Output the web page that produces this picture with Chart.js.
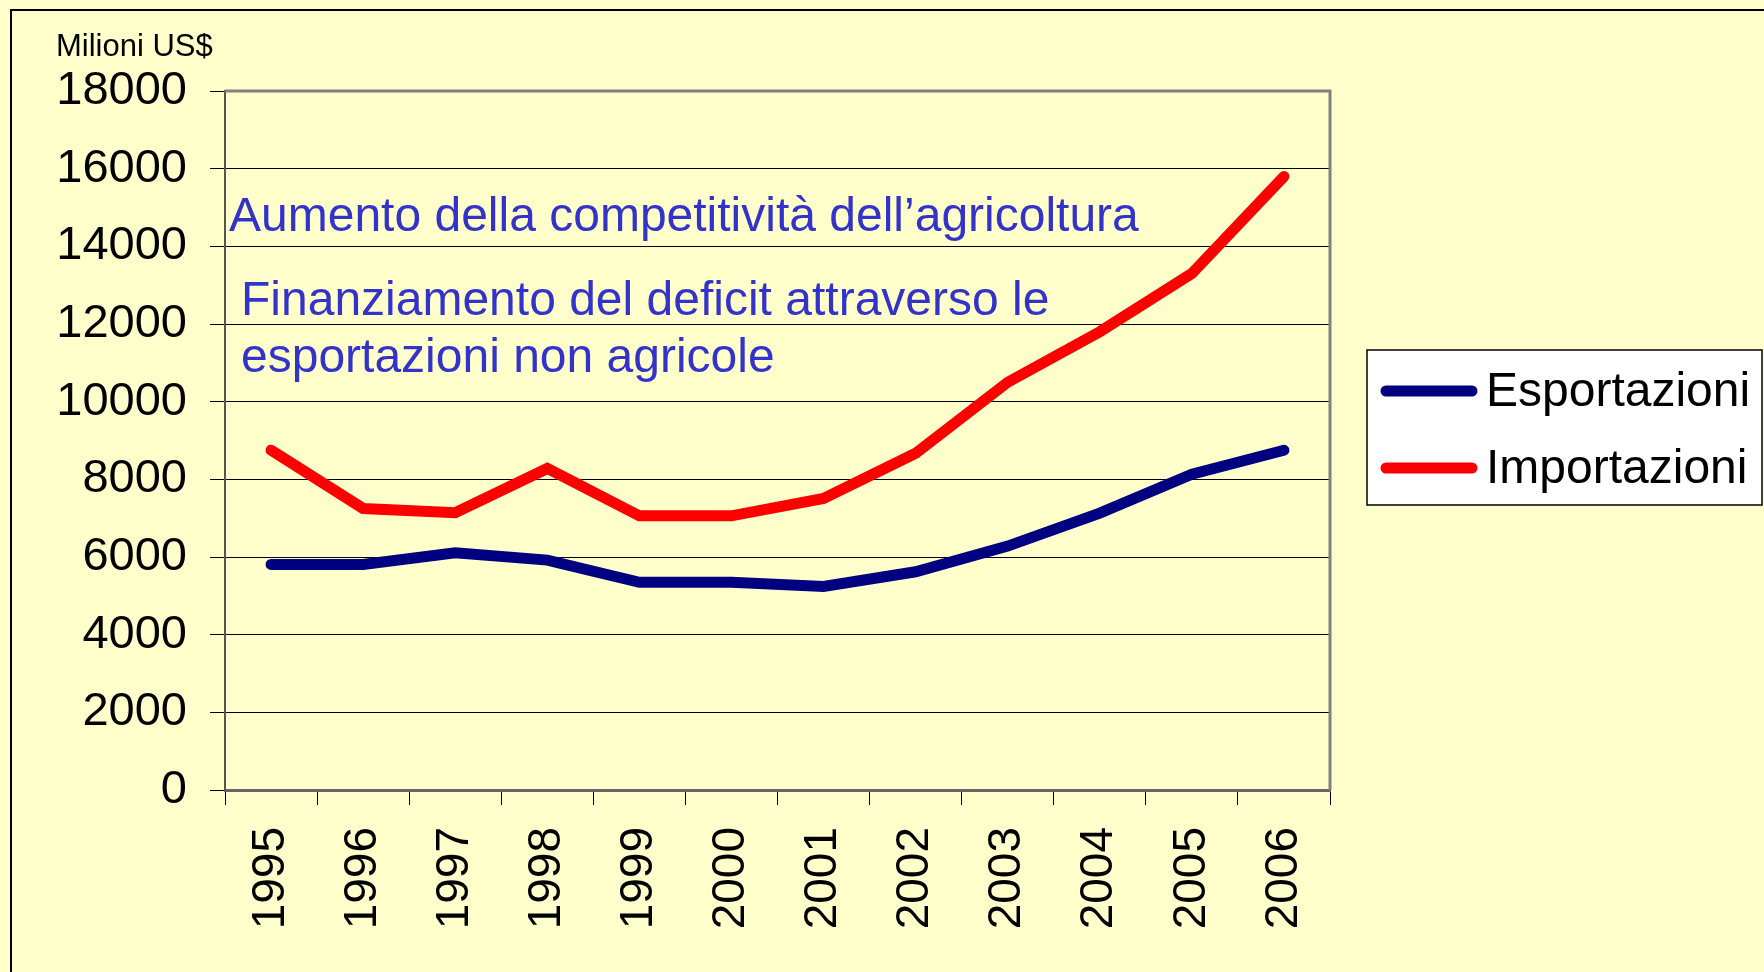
<!DOCTYPE html>
<html>
<head>
<meta charset="utf-8">
<script src="https://cdn.jsdelivr.net/npm/chart.js@4.4.1/dist/chart.umd.min.js"></script>
<style>
    html, body { margin: 0; padding: 0; background: #FFFFCC; }
    #contenitore { width: 1764px; height: 972px; }
</style>
</head>
<body>
<div id="contenitore">
    <canvas id="grafico" width="1764" height="972"></canvas>
</div>
<script>
// Dati (milioni di US$)
const anni = ['1995', '1996', '1997', '1998', '1999', '2000', '2001', '2002', '2003', '2004', '2005', '2006']
const esportazioni = [5810, 5810, 6110, 5920, 5350, 5350, 5240, 5620, 6280, 7130, 8130, 8750]
const importazioni = [8750, 7250, 7140, 8280, 7060, 7060, 7510, 8670, 10500, 11800, 13300, 15800]
const etichette_serie = ['Esportazioni', 'Importazioni']
const colori_serie = ['#000080', '#FF0000']
const unita = 'Milioni US$'
const note = [
    'Aumento della competitività dell\u2019agricoltura',
    'Finanziamento del deficit attraverso le',
    'esportazioni non agricole'
]

const FONT = '"Liberation Sans", Arial, sans-serif'

// sfondo, cornice esterna, unità di misura
const sfondo = {
    id: 'sfondo',
    beforeDraw(chart) {
        const ctx = chart.ctx
        ctx.save()
        ctx.fillStyle = '#FFFFCC'
        ctx.fillRect(0, 0, chart.width, chart.height)
        ctx.strokeStyle = '#000'
        ctx.lineWidth = 2
        ctx.beginPath()
        ctx.moveTo(11, chart.height + 5)
        ctx.lineTo(11, 10)
        ctx.lineTo(chart.width + 5, 10)
        ctx.stroke()
        ctx.fillStyle = '#000'
        ctx.font = '31px ' + FONT
        ctx.textBaseline = 'alphabetic'
        ctx.fillText(unita, 56, 56)
        ctx.restore()
    }
}

// note in blu e bordo dell'area del grafico
const note_plugin = {
    id: 'note',
    beforeDatasetsDraw(chart) {
        const ctx = chart.ctx
        const a = chart.chartArea
        ctx.save()
        ctx.strokeStyle = '#808080'
        ctx.lineWidth = 3
        ctx.beginPath()
        ctx.moveTo(a.left, a.top)
        ctx.lineTo(a.right, a.top)
        ctx.lineTo(a.right, a.bottom)
        ctx.stroke()

        ctx.fillStyle = '#3333CC'
        ctx.font = '48px ' + FONT
        ctx.textBaseline = 'alphabetic'
        ctx.fillText(note[0], 229, 231)
        ctx.fillText(note[1], 241, 315)
        ctx.fillText(note[2], 241, 372)
        ctx.restore()
    }
}

// legenda con riquadro bianco
const legenda = {
    id: 'legenda',
    afterDraw(chart) {
        const ctx = chart.ctx
        const x = 1367, y = 350, w = 395, h = 155
        ctx.save()
        ctx.fillStyle = '#FFFFFF'
        ctx.fillRect(x, y, w, h)
        ctx.strokeStyle = '#000'
        ctx.lineWidth = 1.5
        ctx.strokeRect(x, y, w, h)
        chart.data.datasets.forEach((ds, i) => {
            const yy = 391 + i * 77
            ctx.strokeStyle = ds.borderColor
            ctx.lineWidth = 11
            ctx.lineCap = 'round'
            ctx.beginPath()
            ctx.moveTo(1386, yy)
            ctx.lineTo(1472, yy)
            ctx.stroke()
            ctx.fillStyle = '#000'
            ctx.font = '48px ' + FONT
            ctx.textBaseline = 'alphabetic'
            ctx.fillText(ds.label, 1486, yy + 15)
        })
        ctx.restore()
    }
}

const data = {
    labels: anni,
    datasets: [{
        label: etichette_serie[0],
        data: esportazioni,
        borderColor: colori_serie[0],
        backgroundColor: colori_serie[0],
        borderWidth: 11,
        borderCapStyle: 'round',
        borderJoinStyle: 'miter',
        pointRadius: 0,
        tension: 0
    }, {
        label: etichette_serie[1],
        data: importazioni,
        borderColor: colori_serie[1],
        backgroundColor: colori_serie[1],
        borderWidth: 11,
        borderCapStyle: 'round',
        borderJoinStyle: 'miter',
        pointRadius: 0,
        tension: 0
    }]
}

const config = {
    type: 'line',
    data: data,
    options: {
        responsive: false,
        animation: false,
        devicePixelRatio: 1,
        layout: { padding: { left: 0, top: 91, right: 434, bottom: 0 } },
        plugins: {
            legend: { display: false },
            title: { display: false },
            tooltip: { enabled: false }
        },
        scales: {
            x: {
                offset: true,
                afterFit: (scale) => { scale.height = 182 },
                grid: {
                    offset: true,
                    drawOnChartArea: false,
                    drawTicks: true,
                    tickLength: 15,
                    color: '#000',
                    lineWidth: 1
                },
                border: { color: '#666666', width: 3 },
                ticks: {
                    minRotation: 90,
                    maxRotation: 90,
                    autoSkip: false,
                    padding: 22,
                    color: '#000',
                    font: { family: FONT, size: 46 }
                }
            },
            y: {
                min: 0,
                max: 18000,
                afterFit: (scale) => { scale.width = 225 },
                grid: {
                    color: '#000',
                    lineWidth: 1,
                    drawTicks: true,
                    tickLength: 15
                },
                border: { color: '#555555', width: 2 },
                ticks: {
                    stepSize: 2000,
                    padding: 23,
                    color: '#000',
                    font: { family: FONT, size: 47 },
                    callback: (v) => String(v)
                }
            }
        }
    },
    plugins: [sfondo, note_plugin, legenda]
}

const grafico = new Chart(document.getElementById('grafico'), config)
</script>
</body>
</html>
